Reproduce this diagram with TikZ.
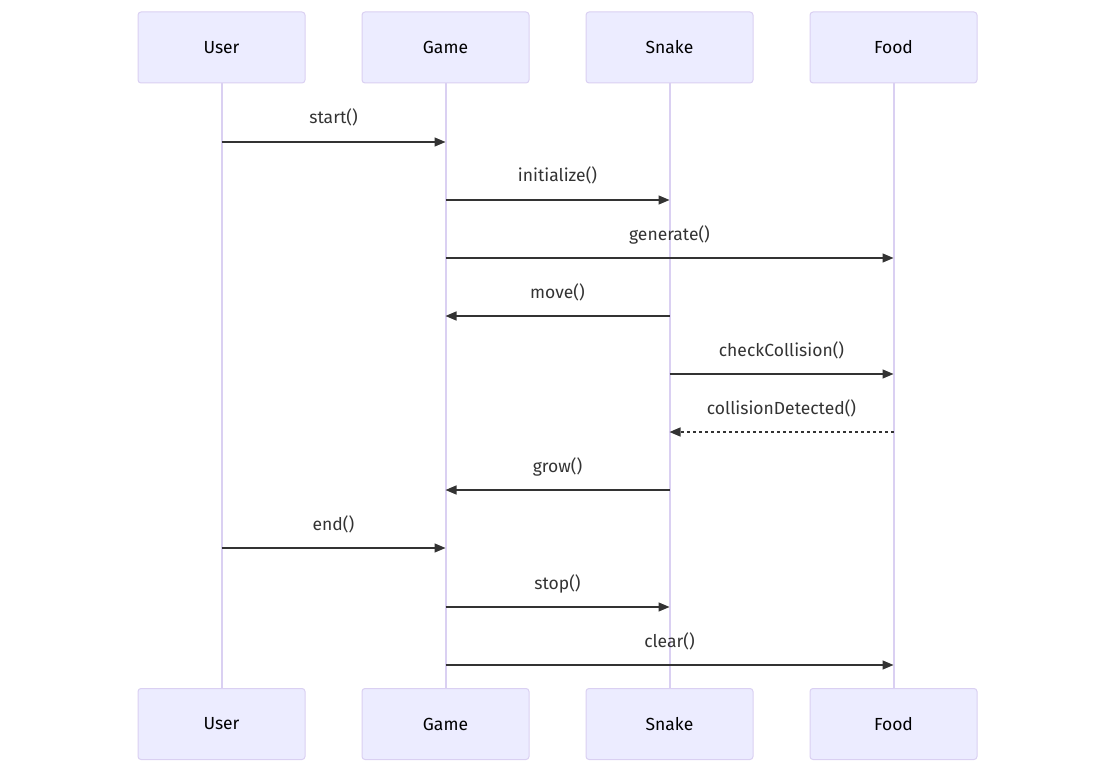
\documentclass[tikz,border=0pt]{standalone}
\usepackage{fontspec}
\setmainfont{Fira Sans}
\usetikzlibrary{arrows.meta}
\definecolor{actfill}{HTML}{ECECFF}
\definecolor{actborder}{HTML}{DAD0F2}
\definecolor{msgcol}{HTML}{333333}
\tikzset{
  actor/.style={draw=actborder, fill=actfill, line width=1pt, rounded corners=3pt,
    minimum width=167pt, minimum height=71pt, inner sep=0pt, font=\fontsize{17.5}{20}\selectfont, text=black},
  lifeline/.style={draw=actborder, line width=2pt},
  msg/.style={draw=msgcol, line width=1.4pt, -{Triangle[length=11pt,width=9pt]}},
  reply/.style={msg, dash pattern=on 3pt off 3pt},
  lbl/.style={font=\fontsize{17.5}{20}\selectfont, text=msgcol, inner sep=0pt}
}
\begin{document}
\begin{tikzpicture}[x=1pt,y=-1pt]
\useasboundingbox (0,0) rectangle (1116,773);
% top actors
\node[actor] (uT) at (221.5,47.5) {User};
\node[actor] (gT) at (445.5,47.5) {Game};
\node[actor] (sT) at (669.5,47.5) {Snake};
\node[actor] (fT) at (893.5,47.5) {Food};
% bottom actors
\node[actor] (uB) at (221.5,724) {User};
\node[actor] (gB) at (445.5,724) {Game};
\node[actor] (sB) at (669.5,724) {Snake};
\node[actor] (fB) at (893.5,724) {Food};
% lifelines
\draw[lifeline] (uT.south) -- (uB.north);
\draw[lifeline] (gT.south) -- (gB.north);
\draw[lifeline] (sT.south) -- (sB.north);
\draw[lifeline] (fT.south) -- (fB.north);
% messages
\draw[msg] (uT |- 0,142) -- (gT |- 0,142);
\node[lbl] (l1) at (333.5,117.5) {start()};
\draw[msg] (gT |- 0,200) -- (sT |- 0,200);
\node[lbl] (l2) at (557.5,175.5) {initialize()};
\draw[msg] (gT |- 0,258) -- (fT |- 0,258);
\node[lbl] (l3) at (669.5,234.5) {generate()};
\draw[msg] (sT |- 0,316) -- (gT |- 0,316);
\node[lbl] (l4) at (557.5,292.5) {move()};
\draw[msg] (sT |- 0,374) -- (fT |- 0,374);
\node[lbl] (l5) at (781.5,350.5) {checkCollision()};
\draw[reply] (fT |- 0,432) -- (sT |- 0,432);
\node[lbl] (l6) at (781.5,408.5) {collisionDetected()};
\draw[msg] (sT |- 0,490) -- (gT |- 0,490);
\node[lbl] (l7) at (557.5,466.5) {grow()};
\draw[msg] (uT |- 0,548) -- (gT |- 0,548);
\node[lbl] (l8) at (333.5,524.5) {end()};
\draw[msg] (gT |- 0,607) -- (sT |- 0,607);
\node[lbl] (l9) at (557.5,583.5) {stop()};
\draw[msg] (gT |- 0,665) -- (fT |- 0,665);
\node[lbl] (l10) at (669.5,641.5) {clear()};
\end{tikzpicture}
\end{document}
